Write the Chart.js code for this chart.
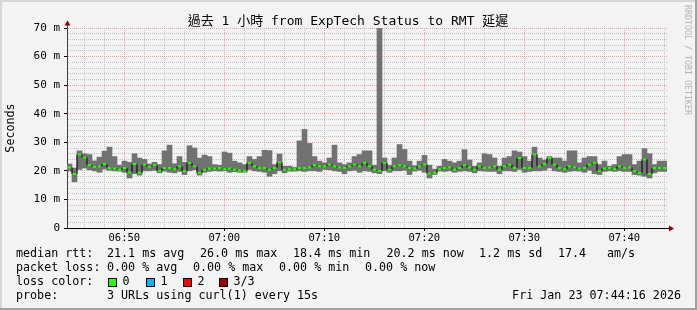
<!DOCTYPE html>
<html>
<head>
<meta charset="utf-8">
<script src="https://cdn.jsdelivr.net/npm/chart.js@4.4.1/dist/chart.umd.min.js"></script>
<style>
html, body { margin: 0; padding: 0; background: #f3f3f3; }
</style>
</head>
<body>
<canvas id="smoke" width="697" height="310"></canvas>
<script>
// median / min / max rtt (ms), one value per 30s bin from 06:44:31
var medianRtt = [
  21.2, 18.9, 25.7, 24.6, 22.0, 21.4, 21.5, 22.4, 21.0, 20.8, 20.4, 21.0, 19.5, 22.4, 19.3, 22.2, 21.4, 22.0, 19.9, 21.0,
  21.0, 20.6, 21.6, 19.9, 22.8, 21.6, 19.3, 20.4, 20.8, 20.8, 21.0, 20.6, 20.8, 20.4, 20.1, 19.9, 22.8, 21.6, 21.0, 21.0,
  20.4, 21.0, 23.0, 20.4, 20.6, 20.6, 21.0, 21.0, 21.2, 22.0, 21.6, 21.6, 22.2, 21.6, 21.2, 21.0, 21.6, 22.2, 21.6, 22.8,
  21.6, 20.4, 20.0, 22.8, 20.4, 21.6, 22.0, 21.6, 21.0, 20.8, 21.6, 22.2, 19.0, 19.3, 20.6, 21.0, 21.2, 20.4, 21.0, 22.0,
  21.2, 20.4, 21.6, 21.0, 21.2, 21.6, 20.4, 21.6, 22.2, 21.0, 24.5, 21.0, 21.0, 25.7, 21.6, 22.4, 24.5, 22.2, 21.0, 20.6,
  21.6, 21.2, 20.8, 21.0, 22.2, 22.8, 19.9, 20.8, 21.0, 20.6, 21.6, 21.0, 21.2, 19.9, 19.3, 24.0, 18.9, 21.0, 21.0, 21.0
];
var minRtt = [
  19.9, 16.2, 20.5, 21.0, 20.4, 20.0, 19.5, 20.6, 20.2, 20.0, 19.9, 19.5, 17.5, 19.0, 18.5, 20.0, 20.0, 20.2, 19.3, 19.9,
  19.5, 19.3, 19.8, 18.7, 20.0, 20.4, 18.5, 19.5, 19.8, 20.0, 19.9, 20.0, 19.5, 19.7, 19.5, 19.5, 20.5, 20.0, 19.8, 19.5,
  18.1, 19.0, 20.0, 19.3, 19.9, 19.9, 20.0, 19.8, 20.0, 20.0, 19.8, 20.5, 20.4, 20.0, 19.8, 19.0, 20.0, 20.2, 19.5, 20.0,
  19.8, 19.3, 19.0, 20.0, 19.5, 20.0, 20.0, 20.2, 18.7, 19.9, 20.2, 19.5, 17.5, 18.7, 19.9, 19.8, 20.0, 19.5, 19.8, 20.0,
  19.8, 19.3, 20.0, 19.9, 19.8, 19.8, 19.0, 20.0, 20.0, 19.8, 20.5, 19.5, 19.8, 20.0, 20.0, 20.2, 21.0, 20.0, 19.8, 19.5,
  19.8, 20.0, 19.9, 19.5, 20.2, 19.0, 18.7, 19.8, 20.0, 19.8, 20.0, 19.8, 19.8, 18.7, 18.5, 18.1, 17.5, 19.3, 19.8, 19.8
];
var maxRtt = [
  22.4, 21.0, 27.0, 26.0, 25.7, 23.5, 24.8, 26.9, 28.3, 25.0, 22.0, 23.4, 23.0, 26.0, 24.5, 24.0, 22.4, 23.0, 22.2, 27.0,
  29.0, 22.5, 25.0, 23.0, 28.8, 28.0, 24.5, 25.5, 25.0, 22.2, 22.0, 26.6, 26.2, 23.4, 22.8, 22.2, 25.0, 24.0, 25.0, 27.2,
  27.1, 22.2, 25.9, 21.6, 21.6, 21.2, 30.5, 34.5, 29.6, 25.0, 23.4, 22.8, 24.5, 29.0, 22.8, 22.2, 22.8, 25.0, 25.7, 27.0,
  27.0, 22.0, 75.0, 24.5, 22.0, 24.5, 29.2, 27.5, 23.4, 21.8, 23.4, 25.4, 22.0, 20.6, 21.6, 24.0, 23.4, 22.8, 23.4, 27.4,
  23.8, 21.6, 22.8, 26.0, 25.7, 24.5, 21.6, 24.5, 25.0, 27.0, 26.6, 25.0, 23.4, 28.3, 24.5, 23.8, 25.0, 24.5, 24.5, 23.4,
  27.0, 27.0, 22.8, 24.5, 25.0, 25.0, 22.2, 23.4, 21.6, 22.2, 25.0, 25.7, 25.7, 22.2, 23.4, 27.8, 26.0, 22.2, 23.4, 23.4
];

// time axis in minutes after 06:00
var graphStart = 44 + 16 / 60;   // 06:44:16
var graphEnd = graphStart + 60;  // 07:44:16
var firstBin = 44 + 31 / 60;
var binStep = 0.5;
var times = medianRtt.map(function (v, i) { return firstBin + i * binStep; });

var yTicks = [0, 10, 20, 30, 40, 50, 60, 70];

var titleText = "過去 1 小時 from ExpTech Status to RMT 延遲";
var rttStats = ["21.1 ms avg", "26.0 ms max", "18.4 ms min", "20.2 ms now", "1.2 ms sd", "17.4", "am/s"];
var lossStats = ["0.00 % avg", "0.00 % max", "0.00 % min", "0.00 % now"];
var lossLabels = ["0", "1", "2", "3/3"];
var lossColors = ["#26ff00", "#00b8ff", "#ff0000", "#a00000"];
var probeText = "3 URLs using curl(1) every 15s";
var stampText = "Fri Jan 23 07:44:16 2026";

var MONO = "'DejaVu Sans Mono', 'Noto Sans CJK TC', monospace";

function hhmm(v) {
    var h = 6 + Math.floor(v / 60), m = Math.round(v % 60);
    return (h < 10 ? "0" : "") + h + ":" + (m < 10 ? "0" : "") + m;
}

function gridColor(c) {
    return c.tick && c.tick.value % 10 === 0 ? "#eea0a0" : "#c4c4c4";
}
function tickMark(c) {
    return c.tick && c.tick.value % 10 === 0 ? "#000" : "rgba(0,0,0,0)";
}

var framePlugin = {
    id: "frame",
    beforeDraw: function (chart) {
        var c = chart.ctx, w = chart.width, h = chart.height;
        c.save();
        c.fillStyle = "#f3f3f3";
        c.fillRect(0, 0, w, h);
        c.fillStyle = "#d6d6d6";
        c.fillRect(0, 0, w, 2);
        c.fillRect(0, 0, 2, h);
        c.fillStyle = "#a0a0a0";
        c.fillRect(0, h - 2, w, 2);
        c.fillRect(w - 2, 0, 2, h);
        c.restore();
    },
    afterDraw: function (chart) {
        var c = chart.ctx, a = chart.chartArea;
        c.save();
        // axis arrows
        c.strokeStyle = "#404040";
        c.lineWidth = 1;
        c.beginPath();
        c.moveTo(a.left + 0.5, a.top);
        c.lineTo(a.left + 0.5, a.top - 4);
        c.stroke();
        c.strokeStyle = "#000";
        c.beginPath();
        c.moveTo(a.left - 3, a.bottom + 0.5);
        c.lineTo(a.left, a.bottom + 0.5);
        c.moveTo(a.right, a.bottom + 0.5);
        c.lineTo(a.right + 3, a.bottom + 0.5);
        c.stroke();
        c.fillStyle = "#900000";
        c.beginPath();
        c.moveTo(a.left + 0.5, a.top - 7.5);
        c.lineTo(a.left - 2.5, a.top - 2.5);
        c.lineTo(a.left + 3.5, a.top - 2.5);
        c.closePath();
        c.fill();
        c.beginPath();
        c.moveTo(a.right + 7, a.bottom + 0.5);
        c.lineTo(a.right + 2, a.bottom - 2.5);
        c.lineTo(a.right + 2, a.bottom + 3.5);
        c.closePath();
        c.fill();

        // title
        c.fillStyle = "#000";
        c.textBaseline = "middle";
        c.textAlign = "center";
        c.font = "13px " + MONO;
        c.fillText(titleText, 348, 21.5);

        // legend block
        c.textAlign = "left";
        c.font = "11.7px " + MONO;
        var rttX = [107, 200, 293, 386.5, 479, 558, 607];
        c.fillText("median rtt:", 16, 254);
        rttStats.forEach(function (s, i) { c.fillText(s, rttX[i], 254); });
        var lossX = [107, 193, 279, 365];
        c.fillText("packet loss:", 16, 268);
        lossStats.forEach(function (s, i) { c.fillText(s, lossX[i], 268); });
        c.fillText("loss color:", 16, 282);
        var boxX = [108, 146, 183, 219];
        lossLabels.forEach(function (s, i) {
            c.fillStyle = lossColors[i];
            c.fillRect(boxX[i], 278, 9, 9);
            c.strokeStyle = "#000";
            c.strokeRect(boxX[i] + 0.5, 278.5, 8, 8);
            c.fillStyle = "#000";
            c.fillText(s, boxX[i] + 14.5, 282);
        });
        c.fillText("probe:", 16, 296);
        c.fillText(probeText, 107, 296);
        c.textAlign = "right";
        c.fillText(stampText, 681, 296);

        // vertical watermark
        c.translate(687.5, 5);
        c.rotate(Math.PI / 2);
        c.textAlign = "left";
        c.fillStyle = "#b4b4b4";
        c.font = "8.3px " + MONO;
        c.fillText("RRDTOOL / TOBI OETIKER", 0, 0);
        c.restore();
    }
};

var ctx = document.getElementById("smoke").getContext("2d");
var chart = new Chart(ctx, {
    type: "bar",
    data: {
        datasets: [{
            type: "line",
            label: "median",
            data: times.map(function (t, i) { return { x: t, y: medianRtt[i] }; }),
            showLine: false,
            pointStyle: "line",
            pointRadius: 2,
            pointHoverRadius: 2,
            pointBorderWidth: 2,
            pointBorderColor: lossColors[0],
            pointBackgroundColor: lossColors[0],
            order: 1
        }, {
            type: "line",
            label: "median link",
            data: times.map(function (t, i) { return { x: t, y: medianRtt[i] }; }),
            stepped: "middle",
            borderColor: "#000",
            borderWidth: 1,
            pointRadius: 0,
            order: 2
        }, {
            label: "smoke",
            data: times.map(function (t, i) { return { x: t, y: [minRtt[i], maxRtt[i]] }; }),
            backgroundColor: "#727272",
            borderWidth: 0,
            barPercentage: 1,
            categoryPercentage: 1,
            order: 3
        }]
    },
    options: {
        responsive: false,
        animation: false,
        events: [],
        layout: { padding: { left: 0, right: 30, top: 28, bottom: 62 } },
        plugins: {
            legend: { display: false },
            tooltip: { enabled: false },
            title: { display: false }
        },
        scales: {
            x: {
                type: "linear",
                min: graphStart,
                max: graphEnd,
                offset: false,
                afterBuildTicks: function (scale) {
                    var list = [];
                    for (var m = Math.ceil(graphStart / 2) * 2; m < graphEnd; m += 2) list.push({ value: m });
                    scale.ticks = list;
                },
                afterFit: function (scale) { scale.height = 20; },
                ticks: {
                    autoSkip: false,
                    minRotation: 0,
                    maxRotation: 0,
                    padding: 1,
                    color: "#000",
                    font: { family: MONO, size: 10.5 },
                    callback: function (v) { return v % 10 === 0 ? hhmm(v) : ""; }
                },
                grid: { offset: false, color: gridColor, tickColor: tickMark, tickLength: 3 },
                border: { color: "#000", width: 1, dash: [1, 1] }
            },
            y: {
                min: 0,
                max: 70,
                afterFit: function (scale) { scale.width = 67; },
                ticks: {
                    stepSize: 2,
                    autoSkip: false,
                    padding: 4,
                    color: "#000",
                    font: { family: MONO, size: 11 },
                    callback: function (v) {
                        if (yTicks.indexOf(v) < 0) return "";
                        return v === 0 ? "0" : v + " m";
                    }
                },
                grid: { color: gridColor, tickColor: tickMark, tickLength: 3 },
                border: { color: "#404040", width: 1, dash: [1, 1] },
                title: {
                    display: true,
                    text: "Seconds",
                    color: "#000",
                    font: { family: MONO, size: 11.7 },
                    padding: { top: 4, bottom: 0 }
                }
            }
        }
    },
    plugins: [framePlugin]
});
</script>
</body>
</html>
